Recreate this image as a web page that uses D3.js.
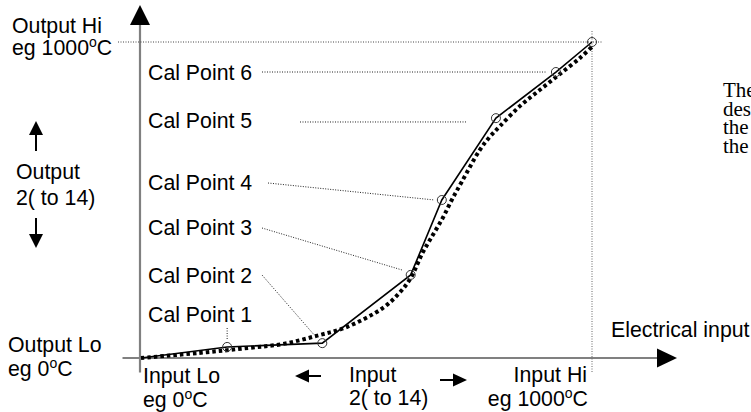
<!DOCTYPE html>
<html><head><meta charset="utf-8">
<script src="https://cdn.jsdelivr.net/npm/d3@7"></script>
<style>
html,body{margin:0;padding:0;background:#fff;overflow:hidden}
svg{display:block;background:#fff}
text{font-family:"Liberation Sans",Arial,Helvetica,sans-serif;font-size:21.3px;fill:#000}
</style></head><body>
<svg id="chart" width="751" height="412"></svg>
<script>
// ---- data (input / output in engineering units, 0..1000) ----
const calInput  = [0, 191, 402, 598, 667, 787, 920, 1000];
const calOutput = [0,  35,  47, 263, 500, 759, 905, 1000];
const calLabels = ["Cal Point 1", "Cal Point 2", "Cal Point 3", "Cal Point 4", "Cal Point 5", "Cal Point 6"];
// leader end points (data units) for each cal label
const leaderEndInput  = [191, 384, 580, 651, 722, 900];
const leaderEndOutput = [ 57,  73, 278, 500, 747, 905];
// ideal (true) curve
const idealInput  = [0, 129, 240, 313, 389, 456, 536, 573, 598, 624, 647, 669, 689, 711, 751, 773, 796, 840, 884, 929, 973, 1000];
const idealOutput = [0,  16,  32,  44,  70,  98, 158, 206, 253, 332, 389, 443, 500, 557, 658, 699, 734, 797, 848, 899, 949, 985];
// cropped paragraph at right
const sideWords = ["The", "des", "the", "the"];

const svg = d3.select("#chart");
const x = d3.scaleLinear().domain([0, 1000]).range([141, 592]);
const y = d3.scaleLinear().domain([0, 1000]).range([358, 42]);

// ---- axes (no ticks, extended past data range) ----
const xAxisScale = d3.scaleLinear().domain([x.invert(122), x.invert(658)]).range([122, 658]);
const yAxisScale = d3.scaleLinear().domain([y.invert(372), y.invert(24)]).range([372, 24]);
svg.append("g").attr("transform", `translate(0,${y(0) - 0.5})`)
  .call(d3.axisBottom(xAxisScale).tickValues([]).tickSizeOuter(0));
svg.append("g").attr("transform", `translate(${x(0) - 1.5},0)`)
  .call(d3.axisLeft(yAxisScale).tickValues([]).tickSizeOuter(0));
svg.selectAll(".domain").attr("stroke", "#808080").attr("stroke-width", 2.2);

// arrowheads
svg.append("path").attr("d", `M${x(0)-1},5 L${x(0)-11},25 L${x(0)+9},25 Z`).attr("fill", "#000");
svg.append("path").attr("d", `M677,${y(0)} L657,${y(0)-9.5} L657,${y(0)+9.5} Z`).attr("fill", "#000");

// ---- reference dotted lines to Hi point ----
svg.append("line").attr("x1", 118).attr("x2", 603).attr("y1", y(1000)).attr("y2", y(1000))
  .attr("stroke", "#444").attr("stroke-width", 1).attr("stroke-dasharray", "1,1.5");
svg.append("line").attr("x1", x(1000)).attr("x2", x(1000)).attr("y1", 31).attr("y2", 373)
  .attr("stroke", "#666").attr("stroke-width", 1).attr("stroke-dasharray", "1,1.5");

// ---- ideal curve (thick dotted) ----
const idealPts = idealInput.map((v, i) => [x(v), y(idealOutput[i])]);
svg.append("path").attr("d", d3.line().curve(d3.curveCatmullRom.alpha(0.5))(idealPts))
  .attr("fill", "none").attr("stroke", "#000").attr("stroke-width", 4)
  .attr("stroke-dasharray", "3.5,3");

// ---- calibrated line (solid) ----
const calPts = calInput.map((v, i) => [x(v), y(calOutput[i])]);
svg.append("path").attr("d", d3.line()(calPts))
  .attr("fill", "none").attr("stroke", "#000").attr("stroke-width", 1.6);

// circles at cal points + hi point
svg.selectAll("circle.cal").data(calPts.slice(1)).join("circle").attr("class", "cal")
  .attr("cx", d => d[0]).attr("cy", d => d[1]).attr("r", 4.5)
  .attr("fill", "none").attr("stroke", "#333").attr("stroke-width", 1);

// ---- cal labels and leaders ----
const labelBaseline = [322, 283, 235, 190, 128, 80];
const leaderStart = [[x(calInput[1]), 328], [262, 275], [262, 228], [268, 183], [300, 122], [262, 72]];
calLabels.forEach((lab, i) => {
  svg.append("text").attr("x", 148).attr("y", labelBaseline[i]).text(lab);
  svg.append("line")
    .attr("x1", leaderStart[i][0]).attr("y1", leaderStart[i][1])
    .attr("x2", x(leaderEndInput[i])).attr("y2", y(leaderEndOutput[i]))
    .attr("stroke", "#222").attr("stroke-width", 1).attr("stroke-dasharray", "1,1.5");
});

// ---- text annotations ----
function label(tx, ty, parts, anchor) {
  const t = svg.append("text").attr("x", tx).attr("y", ty).attr("text-anchor", anchor || "start");
  parts.forEach(p => {
    if (typeof p === "string") t.append("tspan").text(p);
    else if (p.kind === "sup") t.append("tspan").attr("dy", -8).attr("font-size", "14px").text(p.txt);
    else t.append("tspan").attr("dy", 8).text(p.txt);
  });
  return t;
}
const deg = [{kind: "sup", txt: "o"}, {kind: "after", txt: "C"}];
label(12, 33, ["Output Hi"]);
label(12, 55, ["eg 1000", ...deg]);
label(16, 179, ["Output"]);
label(16, 205, ["2( to 14)"]);
label(8, 352, ["Output Lo"]);
label(8, 376, ["eg 0", ...deg]);
label(143, 383, ["Input Lo"]);
label(143, 407, ["eg 0", ...deg]);
label(349, 382, ["Input"]);
label(349, 405, ["2( to 14)"]);
label(587, 382, ["Input Hi"], "end");
label(588, 406, ["eg 1000", ...deg], "end");
label(611, 337, ["Electrical input"]);

// right-side paragraph (cropped by the page edge)
sideWords.forEach((w, i) => {
  svg.append("text").attr("x", 723).attr("y", 97 + i * 18.6)
    .style("font-family", "'Liberation Serif','Times New Roman',serif")
    .style("font-size", "21px").text(w);
});

// ---- small direction arrows ----
function arrow(x1, y1, x2, y2, head, hw) {
  const a = Math.atan2(y2 - y1, x2 - x1);
  const bx = x2 - head * Math.cos(a), by = y2 - head * Math.sin(a);
  const px = -Math.sin(a) * hw, py = Math.cos(a) * hw;
  svg.append("line").attr("x1", x1).attr("y1", y1).attr("x2", bx).attr("y2", by)
    .attr("stroke", "#000").attr("stroke-width", 2);
  svg.append("path").attr("d", `M${x2},${y2} L${bx + px},${by + py} L${bx - px},${by - py} Z`).attr("fill", "#000");
}
arrow(36, 151, 36, 121, 14, 7);
arrow(36, 218, 36, 248, 14, 7);
arrow(321, 376, 295, 376, 14, 6.5);
arrow(440, 380, 467, 380, 14, 6.5);
</script>
</body></html>
